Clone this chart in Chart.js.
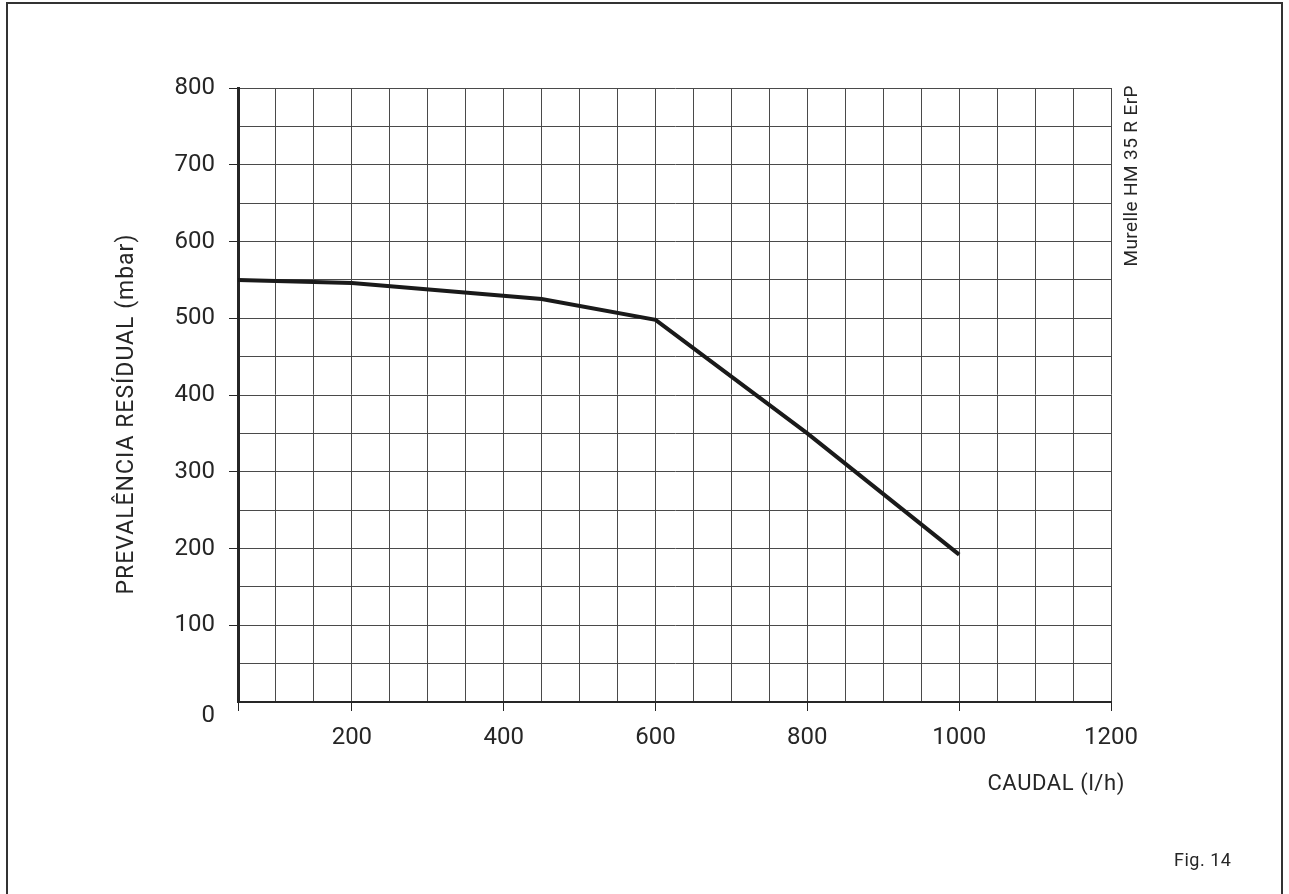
<!DOCTYPE html>
<html>
<head>
<meta charset="utf-8">
<script src="https://cdn.jsdelivr.net/npm/chart.js@4.4.1/dist/chart.umd.min.js"></script>
<style>
  html, body { margin: 0; padding: 0; background: #fff; overflow: hidden; }
  #wrap { position: relative; width: 1289px; height: 894px; }
  #frame {
    position: absolute; left: 6px; top: 2px; width: 1273px; height: 900px;
    border-left: 2px solid #333; border-top: 2px solid #333; border-right: 2px solid #333;
  }
  #curve { position: absolute; left: 0; top: 0; }
</style>
</head>
<body>
<div id="wrap">
  <div id="frame"></div>
  <canvas id="curve" width="1289" height="894"></canvas>
</div>
<script>
// caudal (l/h) vs prevalência residual (mbar)
const flowRate = [50, 200, 450, 600, 800, 1000]
const pressure = [550, 546, 525, 498, 350, 192]
const xTicks = [200, 400, 600, 800, 1000, 1200]
const yTicks = [0, 100, 200, 300, 400, 500, 600, 700, 800]

const yTitle = 'PREVALÊNCIA RESÍDUAL (mbar)'
const xTitle = 'CAUDAL (l/h)'
const modelName = 'Murelle HM 35 R ErP'
const figLabel = 'Fig. 14'

const fontFamily = 'Roboto, "DejaVu Sans", sans-serif'
const gridColor = '#4a4a4a'
const inkColor = '#262626'

const curveData = flowRate.map((x, i) => ({ x: x, y: pressure[i] }))

// extra texts around the plot
const labelsPlugin = {
    id: 'labels',
    afterDraw(chart) {
        const ctx = chart.ctx
        const area = chart.chartArea
        ctx.save()
        ctx.fillStyle = inkColor

        // y title
        ctx.font = '23px ' + fontFamily
        ctx.letterSpacing = '1px'
        ctx.textAlign = 'center'
        ctx.textBaseline = 'middle'
        ctx.save()
        ctx.translate(127, 414)
        ctx.rotate(-Math.PI / 2)
        ctx.fillText(yTitle, 0, 0)
        ctx.restore()

        // x title
        ctx.font = '22px ' + fontFamily
        ctx.letterSpacing = '0.6px'
        ctx.textAlign = 'right'
        ctx.fillText(xTitle, area.right + 14, 784)

        // model name, vertical, right of the plot
        ctx.font = '19px ' + fontFamily
        ctx.letterSpacing = '0.4px'
        ctx.save()
        ctx.translate(area.right + 26, area.top - 3)
        ctx.rotate(-Math.PI / 2)
        ctx.textAlign = 'right'
        ctx.textBaseline = 'alphabetic'
        ctx.fillText(modelName, 0, 0)
        ctx.restore()

        // figure label
        ctx.font = '18px ' + fontFamily
        ctx.letterSpacing = '0.5px'
        ctx.textAlign = 'left'
        ctx.textBaseline = 'middle'
        ctx.fillText(figLabel, 1174, 861)

        ctx.restore()
    }
}

new Chart(document.getElementById('curve'), {
    type: 'line',
    data: {
        datasets: [{
            label: 'Murelle HM 35 R ErP',
            data: curveData,
            borderColor: '#1a1a1a',
            borderWidth: 4,
            pointRadius: 0,
            tension: 0,
            fill: false
        }]
    },
    options: {
        responsive: false,
        animation: false,
        layout: {
            padding: { left: 0, top: 88, right: 178, bottom: 92 }
        },
        plugins: {
            legend: { display: false },
            tooltip: { enabled: false }
        },
        scales: {
            x: {
                type: 'linear',
                min: 50,
                max: 1200,
                afterFit: (scale) => { scale.height = 100 },
                ticks: {
                    stepSize: 50,
                    autoSkip: false,
                    maxRotation: 0,
                    padding: 13,
                    color: inkColor,
                    font: { family: fontFamily, size: 24 },
                    callback: (v) => xTicks.includes(v) ? String(v) : ''
                },
                grid: {
                    color: gridColor,
                    lineWidth: 1,
                    tickLength: 9,
                    tickColor: (c) => (c.tick && (xTicks.includes(c.tick.value) || c.tick.value === 50)) ? inkColor : 'rgba(0,0,0,0)'
                },
                border: { color: inkColor, width: 2 }
            },
            y: {
                type: 'linear',
                min: 0,
                max: 800,
                afterFit: (scale) => { scale.width = 238 },
                ticks: {
                    stepSize: 50,
                    autoSkip: false,
                    padding: 14,
                    color: inkColor,
                    font: { family: fontFamily, size: 24 },
                    callback: (v) => {
                        if (!yTicks.includes(v)) return ''
                        return v === 0 ? ['', '0'] : String(v)
                    }
                },
                grid: {
                    color: gridColor,
                    lineWidth: 1,
                    tickLength: 9,
                    tickColor: (c) => (c.tick && yTicks.includes(c.tick.value) && c.tick.value !== 0) ? inkColor : 'rgba(0,0,0,0)'
                },
                border: { color: inkColor, width: 3 }
            }
        }
    },
    plugins: [labelsPlugin]
})
</script>
</body>
</html>
